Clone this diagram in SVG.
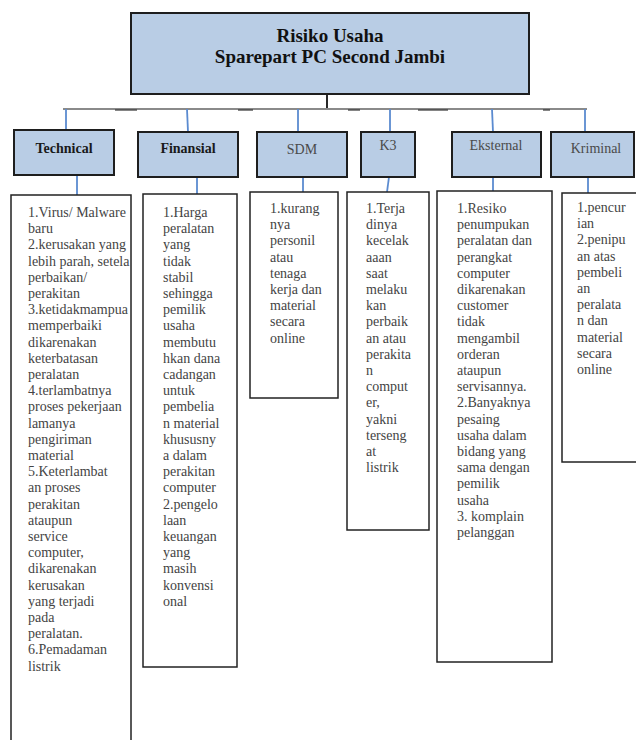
<svg xmlns="http://www.w3.org/2000/svg" width="636" height="740" viewBox="0 0 636 740">
<style>
.hdr{fill:#b9cde5;stroke:#1e1e1e;stroke-width:2}
.box{fill:#ffffff;stroke:#222222;stroke-width:1.5}
.title{font-family:"Liberation Serif",serif;font-weight:bold;font-size:19px;fill:#111;text-anchor:middle}
.h{font-family:"Liberation Serif",serif;font-size:14px;text-anchor:middle;fill:#4a4a4a}
.hb{font-weight:bold;fill:#1a1a1a}
.t{font-family:"Liberation Serif",serif;font-size:14px;fill:#444444}
.blue{stroke:#5b8bd0;stroke-width:1.8;fill:none}
.gray{stroke:#8a8a8a;stroke-width:2;fill:none}
.dark{stroke:#333333;stroke-width:1.2;fill:none}
</style>
<defs>
<clipPath id="clipTech"><rect x="11" y="195" width="120" height="560"/></clipPath>
</defs>
<rect width="636" height="740" fill="#ffffff"/>

<g id="connectors">
<line x1="327" y1="94" x2="327" y2="110" stroke="#111" stroke-width="1.8"/>
<line class="gray" x1="63" y1="109" x2="587" y2="109"/>
<line class="dark" x1="115" y1="110" x2="137" y2="110"/>
<line class="dark" x1="238" y1="110" x2="253" y2="110"/>
<line class="dark" x1="348" y1="110" x2="360" y2="110"/>
<line class="dark" x1="418" y1="110" x2="448" y2="110"/>
<line class="dark" x1="543" y1="110" x2="550" y2="110"/>
<line class="blue" x1="66" y1="109" x2="66" y2="130"/>
<line class="blue" x1="187" y1="109" x2="188" y2="132"/>
<line class="blue" x1="298" y1="109" x2="298" y2="132"/>
<line class="blue" x1="390" y1="109" x2="390" y2="132"/>
<line class="blue" x1="492" y1="109" x2="493" y2="132"/>
<line class="blue" x1="585" y1="109" x2="585" y2="132"/>
<line class="blue" x1="77" y1="176" x2="77" y2="195"/>
<line class="blue" x1="197" y1="177" x2="197" y2="194"/>
<line class="blue" x1="303" y1="177" x2="303" y2="192"/>
<line class="blue" x1="389" y1="177" x2="387" y2="192"/>
<line class="blue" x1="493" y1="177" x2="493" y2="191"/>
<line class="blue" x1="588" y1="177" x2="588" y2="193"/>
</g>

<g id="root">
<rect class="hdr" x="131" y="13" width="398" height="81"/>
<text class="title" x="330" y="42">Risiko Usaha</text>
<text class="title" x="330" y="63">Sparepart PC Second Jambi</text>
</g>

<g id="technical">
<rect class="hdr" x="14" y="130" width="100" height="45"/>
<text class="h hb" x="64" y="153">Technical</text>
<rect class="box" x="11" y="195" width="120" height="560"/>
<text class="t" clip-path="url(#clipTech)"><tspan x="28" y="217">1.Virus/ Malware</tspan><tspan x="28" dy="16.2">baru</tspan><tspan x="28" dy="16.2">2.kerusakan yang</tspan><tspan x="28" dy="16.2">lebih parah, setela</tspan><tspan x="28" dy="16.2">perbaikan/</tspan><tspan x="28" dy="16.2">perakitan</tspan><tspan x="28" dy="16.2">3.ketidakmampua</tspan><tspan x="28" dy="16.2">memperbaiki</tspan><tspan x="28" dy="16.2">dikarenakan</tspan><tspan x="28" dy="16.2">keterbatasan</tspan><tspan x="28" dy="16.2">peralatan</tspan><tspan x="28" dy="16.2">4.terlambatnya</tspan><tspan x="28" dy="16.2">proses pekerjaan</tspan><tspan x="28" dy="16.2">lamanya</tspan><tspan x="28" dy="16.2">pengiriman</tspan><tspan x="28" dy="16.2">material</tspan><tspan x="28" dy="16.2">5.Keterlambat</tspan><tspan x="28" dy="16.2">an proses</tspan><tspan x="28" dy="16.2">perakitan</tspan><tspan x="28" dy="16.2">ataupun</tspan><tspan x="28" dy="16.2">service</tspan><tspan x="28" dy="16.2">computer,</tspan><tspan x="28" dy="16.2">dikarenakan</tspan><tspan x="28" dy="16.2">kerusakan</tspan><tspan x="28" dy="16.2">yang terjadi</tspan><tspan x="28" dy="16.2">pada</tspan><tspan x="28" dy="16.2">peralatan.</tspan><tspan x="28" dy="16.2">6.Pemadaman</tspan><tspan x="28" dy="16.2">listrik</tspan></text>
</g>

<g id="finansial">
<rect class="hdr" x="138" y="132" width="100" height="45"/>
<text class="h hb" x="188" y="153">Finansial</text>
<rect class="box" x="143" y="194" width="94" height="473"/>
<text class="t"><tspan x="163" y="217">1.Harga</tspan><tspan x="163" dy="16.2">peralatan</tspan><tspan x="163" dy="16.2">yang</tspan><tspan x="163" dy="16.2">tidak</tspan><tspan x="163" dy="16.2">stabil</tspan><tspan x="163" dy="16.2">sehingga</tspan><tspan x="163" dy="16.2">pemilik</tspan><tspan x="163" dy="16.2">usaha</tspan><tspan x="163" dy="16.2">membutu</tspan><tspan x="163" dy="16.2">hkan dana</tspan><tspan x="163" dy="16.2">cadangan</tspan><tspan x="163" dy="16.2">untuk</tspan><tspan x="163" dy="16.2">pembelia</tspan><tspan x="163" dy="16.2">n material</tspan><tspan x="163" dy="16.2">khususny</tspan><tspan x="163" dy="16.2">a dalam</tspan><tspan x="163" dy="16.2">perakitan</tspan><tspan x="163" dy="16.2">computer</tspan><tspan x="163" dy="16.2">2.pengelo</tspan><tspan x="163" dy="16.2">laan</tspan><tspan x="163" dy="16.2">keuangan</tspan><tspan x="163" dy="16.2">yang</tspan><tspan x="163" dy="16.2">masih</tspan><tspan x="163" dy="16.2">konvensi</tspan><tspan x="163" dy="16.2">onal</tspan></text>
</g>

<g id="sdm">
<rect class="hdr" x="257" y="132" width="90" height="45"/>
<text class="h" x="302" y="154">SDM</text>
<rect class="box" x="250" y="192" width="88" height="206"/>
<text class="t"><tspan x="270" y="213">1.kurang</tspan><tspan x="270" dy="16.2">nya</tspan><tspan x="270" dy="16.2">personil</tspan><tspan x="270" dy="16.2">atau</tspan><tspan x="270" dy="16.2">tenaga</tspan><tspan x="270" dy="16.2">kerja dan</tspan><tspan x="270" dy="16.2">material</tspan><tspan x="270" dy="16.2">secara</tspan><tspan x="270" dy="16.2">online</tspan></text>
</g>

<g id="k3">
<rect class="hdr" x="361" y="132" width="54" height="45"/>
<text class="h" x="388" y="150">K3</text>
<rect class="box" x="347" y="192" width="82" height="338"/>
<text class="t"><tspan x="366" y="213">1.Terja</tspan><tspan x="366" dy="16.2">dinya</tspan><tspan x="366" dy="16.2">kecelak</tspan><tspan x="366" dy="16.2">aaan</tspan><tspan x="366" dy="16.2">saat</tspan><tspan x="366" dy="16.2">melaku</tspan><tspan x="366" dy="16.2">kan</tspan><tspan x="366" dy="16.2">perbaik</tspan><tspan x="366" dy="16.2">an atau</tspan><tspan x="366" dy="16.2">perakita</tspan><tspan x="366" dy="16.2">n</tspan><tspan x="366" dy="16.2">comput</tspan><tspan x="366" dy="16.2">er,</tspan><tspan x="366" dy="16.2">yakni</tspan><tspan x="366" dy="16.2">terseng</tspan><tspan x="366" dy="16.2">at</tspan><tspan x="366" dy="16.2">listrik</tspan></text>
</g>

<g id="eksternal">
<rect class="hdr" x="452" y="132" width="89" height="45"/>
<text class="h" x="496" y="150">Eksternal</text>
<rect class="box" x="437" y="191" width="115" height="471"/>
<text class="t"><tspan x="457" y="213">1.Resiko</tspan><tspan x="457" dy="16.2">penumpukan</tspan><tspan x="457" dy="16.2">peralatan dan</tspan><tspan x="457" dy="16.2">perangkat</tspan><tspan x="457" dy="16.2">computer</tspan><tspan x="457" dy="16.2">dikarenakan</tspan><tspan x="457" dy="16.2">customer</tspan><tspan x="457" dy="16.2">tidak</tspan><tspan x="457" dy="16.2">mengambil</tspan><tspan x="457" dy="16.2">orderan</tspan><tspan x="457" dy="16.2">ataupun</tspan><tspan x="457" dy="16.2">servisannya.</tspan><tspan x="457" dy="16.2">2.Banyaknya</tspan><tspan x="457" dy="16.2">pesaing</tspan><tspan x="457" dy="16.2">usaha dalam</tspan><tspan x="457" dy="16.2">bidang yang</tspan><tspan x="457" dy="16.2">sama dengan</tspan><tspan x="457" dy="16.2">pemilik</tspan><tspan x="457" dy="16.2">usaha</tspan><tspan x="457" dy="16.2">3. komplain</tspan><tspan x="457" dy="16.2">pelanggan</tspan></text>
</g>

<g id="kriminal">
<rect class="hdr" x="551" y="132" width="83" height="45"/>
<text class="h" x="596" y="153">Kriminal</text>
<rect class="box" x="562" y="193" width="80" height="269"/>
<text class="t"><tspan x="577" y="212">1.pencur</tspan><tspan x="577" dy="16.2">ian</tspan><tspan x="577" dy="16.2">2.penipu</tspan><tspan x="577" dy="16.2">an atas</tspan><tspan x="577" dy="16.2">pembeli</tspan><tspan x="577" dy="16.2">an</tspan><tspan x="577" dy="16.2">peralata</tspan><tspan x="577" dy="16.2">n dan</tspan><tspan x="577" dy="16.2">material</tspan><tspan x="577" dy="16.2">secara</tspan><tspan x="577" dy="16.2">online</tspan></text>
</g>
</svg>
